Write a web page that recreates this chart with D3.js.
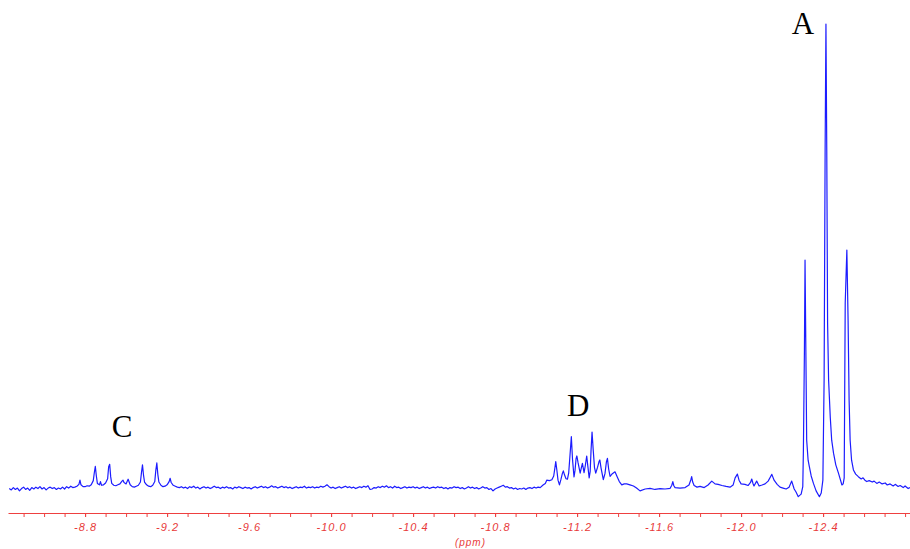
<!DOCTYPE html>
<html>
<head>
<meta charset="utf-8">
<script src="https://cdn.jsdelivr.net/npm/d3@7"></script>
<style>
  html, body { margin: 0; padding: 0; background: #ffffff; }
  svg { display: block; }
  .tick-label { font-family: "Liberation Sans", Arial, sans-serif; font-style: italic; font-size: 11px; letter-spacing: 1px; fill: #e83a3a; }
  .unit-label { font-family: "Liberation Sans", Arial, sans-serif; font-style: italic; font-size: 10px; letter-spacing: 1px; fill: #e83a3a; }
  .peak-label { font-family: "Liberation Serif", "Times New Roman", serif; font-size: 31px; fill: #000; }
</style>
</head>
<body>
<svg id="chart" width="910" height="549"></svg>
<script>
// 1H NMR trace, chemical shift (ppm) vs. relative intensity (tallest line = 100)

// C multiplet and the baseline on its left
const regionC = [
  [-8.43, 0.1], [-8.44, -0.2], [-8.45, 0.3], [-8.46, -0.1], [-8.47, 0.2], [-8.48, -0.4],
  [-8.49, 0.1], [-8.50, 0.4], [-8.51, -0.1], [-8.52, 0.2], [-8.53, -0.3], [-8.54, 0.3],
  [-8.55, 0.0], [-8.56, 0.4], [-8.57, 0.1], [-8.58, 0.5], [-8.59, 0.0], [-8.60, 0.3],
  [-8.61, -0.2], [-8.62, 0.2], [-8.63, 0.4], [-8.64, 0.1], [-8.65, 0.3], [-8.66, -0.1],
  [-8.67, 0.2], [-8.68, 0.0], [-8.69, 0.4], [-8.70, 0.0], [-8.71, 0.5], [-8.72, 0.2],
  [-8.73, 0.6], [-8.74, 0.3], [-8.75, 0.4], [-8.76, 0.6], [-8.77, 1.0], [-8.775, 1.9],
  [-8.78, 0.9], [-8.79, 0.5], [-8.80, 0.5], [-8.81, 0.7], [-8.82, 0.6], [-8.83, 0.9],
  [-8.84, 1.8], [-8.845, 3.5], [-8.85, 4.85], [-8.855, 2.8], [-8.86, 1.2], [-8.87, 0.9],
  [-8.875, 1.6], [-8.88, 0.8], [-8.89, 0.9], [-8.90, 1.3], [-8.91, 2.2], [-8.915, 4.8],
  [-8.92, 5.3], [-8.925, 2.6], [-8.93, 1.2], [-8.94, 0.8], [-8.95, 0.7], [-8.96, 0.9],
  [-8.97, 1.1], [-8.98, 1.7], [-8.985, 1.9], [-8.99, 1.4], [-9.00, 1.1], [-9.005, 1.6],
  [-9.01, 2.1], [-9.015, 1.5], [-9.02, 0.9], [-9.03, 0.5], [-9.04, 0.4], [-9.05, 0.6],
  [-9.06, 0.8], [-9.07, 1.5], [-9.075, 3.5], [-9.08, 5.2], [-9.085, 3.0], [-9.09, 1.5],
  [-9.10, 0.9], [-9.11, 0.6], [-9.12, 0.5], [-9.13, 0.8], [-9.14, 1.6], [-9.145, 4.0],
  [-9.15, 5.6], [-9.155, 3.1], [-9.16, 1.5], [-9.17, 0.8], [-9.18, 0.5], [-9.19, 0.6],
  [-9.20, 0.9], [-9.21, 1.6], [-9.215, 2.3], [-9.22, 1.4], [-9.23, 0.8], [-9.24, 0.6],
  [-9.25, 0.4]
];

// featureless stretch between C and D
const baselineMid = [
  [-9.26, 0.3], [-9.27, 0.5], [-9.28, 0.2], [-9.29, 0.4], [-9.30, 0.1], [-9.31, 0.5],
  [-9.32, 0.3], [-9.33, 0.6], [-9.34, 0.2], [-9.35, 0.4], [-9.36, 0.0], [-9.37, 0.3],
  [-9.38, 0.5], [-9.39, 0.2], [-9.40, 0.4], [-9.41, 0.1], [-9.42, 0.3], [-9.43, 0.6],
  [-9.44, 0.3], [-9.45, 0.4], [-9.46, 0.1], [-9.47, 0.4], [-9.48, 0.2], [-9.49, 0.5],
  [-9.50, 0.2], [-9.51, 0.3], [-9.52, 0.0], [-9.53, 0.4], [-9.54, 0.2], [-9.55, 0.5],
  [-9.56, 0.3], [-9.57, 0.1], [-9.58, 0.4], [-9.59, 0.2], [-9.60, 0.3], [-9.61, 0.0],
  [-9.62, 0.3], [-9.63, 0.5], [-9.64, 0.2], [-9.65, 0.4], [-9.66, 0.6], [-9.67, 0.3],
  [-9.68, 0.5], [-9.69, 0.2], [-9.70, 0.4], [-9.71, 0.7], [-9.72, 0.4], [-9.73, 0.5],
  [-9.74, 0.2], [-9.75, 0.4], [-9.76, 0.6], [-9.77, 0.3], [-9.78, 0.5], [-9.79, 0.2],
  [-9.80, 0.4], [-9.81, 0.1], [-9.82, 0.3], [-9.83, 0.5], [-9.84, 0.2], [-9.85, 0.4],
  [-9.86, 0.3], [-9.87, 0.6], [-9.88, 0.2], [-9.89, 0.4], [-9.90, 0.3], [-9.91, 0.5],
  [-9.92, 0.2], [-9.93, 0.4], [-9.94, 0.3], [-9.95, 0.6], [-9.96, 0.4], [-9.97, 0.6],
  [-9.98, 0.9], [-9.99, 0.5], [-10.00, 0.2], [-10.01, 0.4], [-10.02, 0.1], [-10.03, 0.3],
  [-10.04, 0.5], [-10.05, 0.2], [-10.06, 0.4], [-10.07, 0.6], [-10.08, 0.3], [-10.09, 0.5],
  [-10.10, 0.2], [-10.11, 0.4], [-10.12, 0.1], [-10.13, 0.3], [-10.14, 0.5], [-10.15, 0.3],
  [-10.16, 0.6], [-10.17, 0.4], [-10.18, 0.7], [-10.19, -0.1], [-10.20, 0.0], [-10.21, 0.3],
  [-10.22, 0.2], [-10.23, 0.5], [-10.24, 0.3], [-10.25, 0.6], [-10.26, 0.4], [-10.27, 0.7],
  [-10.28, 0.3], [-10.29, 0.5], [-10.30, 0.2], [-10.31, 0.6], [-10.32, 0.3], [-10.33, 0.4],
  [-10.34, 0.1], [-10.35, 0.3], [-10.36, 0.5], [-10.37, 0.2], [-10.38, 0.4], [-10.39, 0.3],
  [-10.40, 0.5], [-10.41, 0.2], [-10.42, 0.4], [-10.43, 0.1], [-10.44, 0.3], [-10.45, 0.5],
  [-10.46, 0.2], [-10.47, 0.4], [-10.48, 0.1], [-10.49, 0.3], [-10.50, 0.4], [-10.51, 0.2],
  [-10.52, 0.5], [-10.53, 0.3], [-10.54, 0.4], [-10.55, 0.1], [-10.56, 0.3], [-10.57, 0.0],
  [-10.58, 0.3], [-10.59, 0.2], [-10.60, 0.5], [-10.61, 0.3], [-10.62, 0.4], [-10.63, 0.1],
  [-10.64, 0.3], [-10.65, 0.0], [-10.66, 0.2], [-10.67, 0.5], [-10.68, 0.2], [-10.69, 0.4],
  [-10.70, 0.1], [-10.71, 0.3], [-10.72, 0.0], [-10.73, 0.2], [-10.74, 0.5], [-10.75, 0.2],
  [-10.76, 0.3], [-10.77, -0.1], [-10.78, 0.1], [-10.79, -0.4], [-10.80, 0.0], [-10.81, 0.2],
  [-10.82, 0.4], [-10.83, 0.6], [-10.84, 0.8], [-10.85, 0.4], [-10.86, 0.5], [-10.87, 0.2],
  [-10.88, 0.3], [-10.89, 0.0], [-10.90, 0.2], [-10.91, -0.1], [-10.92, 0.1], [-10.93, 0.0],
  [-10.94, 0.2], [-10.95, -0.1], [-10.96, 0.2], [-10.97, 0.3], [-10.98, 0.1], [-10.99, 0.4],
  [-11.00, 0.2], [-11.01, 0.4], [-11.02, 0.3]
];

// D multiplet
const regionD = [
  [-11.034, 0.86], [-11.045, 1.2], [-11.052, 1.9], [-11.065, 1.8], [-11.077, 2.0],
  [-11.086, 2.8], [-11.092, 4.6], [-11.096, 5.9], [-11.101, 4.2], [-11.107, 1.9],
  [-11.114, 0.9], [-11.121, 2.0], [-11.128, 3.3], [-11.133, 3.9], [-11.139, 3.0],
  [-11.146, 2.2], [-11.153, 2.1], [-11.159, 3.4], [-11.165, 7.0], [-11.172, 11.25],
  [-11.178, 6.2], [-11.185, 2.6], [-11.190, 4.0], [-11.195, 6.5], [-11.199, 7.1],
  [-11.205, 5.6], [-11.215, 3.4], [-11.221, 4.6], [-11.226, 5.5], [-11.234, 3.5],
  [-11.240, 5.0], [-11.247, 7.1], [-11.253, 4.7], [-11.259, 2.4], [-11.264, 3.8],
  [-11.268, 8.2], [-11.273, 12.25], [-11.279, 8.2], [-11.285, 4.6], [-11.291, 3.4],
  [-11.300, 4.7], [-11.307, 5.9], [-11.311, 6.25], [-11.317, 4.5], [-11.328, 2.0],
  [-11.336, 3.3], [-11.343, 5.8], [-11.348, 6.6], [-11.354, 4.3], [-11.361, 2.7],
  [-11.372, 3.3], [-11.385, 3.7], [-11.396, 2.6], [-11.406, 1.6], [-11.418, 0.9],
  [-11.430, 1.1], [-11.442, 1.1], [-11.458, 0.9], [-11.475, 0.65], [-11.490, 0.2],
  [-11.507, -0.4]
];

// small lines between D and A
const regionB = [
  [-11.532, 0.0], [-11.556, 0.15], [-11.580, -0.1], [-11.605, 0.1], [-11.629, 0.0],
  [-11.654, 0.15], [-11.662, 0.8], [-11.667, 1.6], [-11.672, 0.7], [-11.678, 0.3],
  [-11.702, 0.2], [-11.727, 0.3], [-11.746, 0.85], [-11.755, 2.0], [-11.759, 2.65],
  [-11.764, 1.5], [-11.771, 0.75], [-11.785, 0.4], [-11.800, 0.55], [-11.820, 0.3],
  [-11.839, 0.86], [-11.857, 1.7], [-11.873, 1.1], [-11.888, 1.0], [-11.907, 0.75],
  [-11.927, 0.55], [-11.946, 0.4], [-11.961, 0.85], [-11.971, 2.4], [-11.982, 3.2],
  [-11.990, 1.9], [-12.000, 1.1], [-12.019, 1.0], [-12.034, 0.75], [-12.046, 1.4],
  [-12.052, 2.15], [-12.058, 1.2], [-12.063, 0.65], [-12.076, 1.7], [-12.088, 0.65],
  [-12.102, 0.85], [-12.117, 1.1], [-12.132, 1.7], [-12.143, 2.6], [-12.150, 3.15],
  [-12.161, 1.9], [-12.176, 1.0], [-12.190, 0.4], [-12.205, 0.2], [-12.220, 0.0],
  [-12.234, 0.4], [-12.247, 1.7], [-12.259, 0.0], [-12.268, -0.65], [-12.279, -1.65],
  [-12.293, -1.1]
];

// A triplet and the baseline on its right
const regionA = [
  [-12.301, 0.5], [-12.304, 8.4], [-12.309, 29.9], [-12.312, 49.2], [-12.316, 29.9],
  [-12.320, 10.5], [-12.327, 6.2], [-12.333, 4.8], [-12.342, 2.8], [-12.353, 1.2],
  [-12.366, -0.4], [-12.382, -1.65], [-12.391, -0.85], [-12.399, 1.9], [-12.405, 23.4],
  [-12.410, 72.9], [-12.414, 100], [-12.418, 72.9], [-12.422, 35.7], [-12.427, 23.4],
  [-12.435, 15.5], [-12.442, 10.5], [-12.451, 7.7], [-12.462, 5.2], [-12.475, 3.4],
  [-12.492, 0.86], [-12.498, 1.1], [-12.503, 2.4], [-12.508, 40.0], [-12.516, 51.4],
  [-12.522, 36.3], [-12.527, 19.1], [-12.532, 10.5], [-12.539, 6.2], [-12.548, 4.1],
  [-12.559, 3.2], [-12.572, 2.65], [-12.586, 2.15], [-12.595, 2.4], [-12.604, 1.9],
  [-12.613, 1.6], [-12.625, 1.8], [-12.640, 1.5], [-12.649, 1.7], [-12.662, 1.2],
  [-12.674, 1.5], [-12.688, 1.1], [-12.703, 1.3], [-12.713, 0.86], [-12.727, 1.1],
  [-12.742, 0.65], [-12.752, 1.0], [-12.766, 0.55], [-12.776, 0.75], [-12.791, 0.3],
  [-12.800, 0.65], [-12.815, 0.1], [-12.824, 0.3]
];

// axis ticks
const minorTicks = [
  -8.5, -8.6, -8.7, -8.8, -8.9, -9.0, -9.1, -9.2, -9.3, -9.4, -9.5, -9.6, -9.7, -9.8, -9.9,
  -10.0, -10.1, -10.2, -10.3, -10.4, -10.5, -10.6, -10.7, -10.8, -10.9, -11.0, -11.1, -11.2,
  -11.3, -11.4, -11.5, -11.6, -11.7, -11.8, -11.9, -12.0, -12.1, -12.2, -12.3, -12.4, -12.5,
  -12.6, -12.7, -12.8
];
const tickLabels = [-8.8, -9.2, -9.6, -10.0, -10.4, -10.8, -11.2, -11.6, -12.0, -12.4];
const axisTitle = "(ppm)";

// multiplet labels, anchored at (ppm, intensity)
const peakNames = ["C", "D", "A"];
const peakNamePpm = [-8.980, -11.205, -12.302];
const peakNameLevel = [11.1, 15.7, 97.8];

const svg = d3.select("#chart");

const x = d3.scaleLinear().domain([-8.424, -12.824]).range([8, 910]);
const y = d3.scaleLinear().domain([0, 100]).range([489, 24]);

const spectrum = [].concat(regionC, baselineMid, regionD, regionB, regionA);

const line = d3.line()
  .x(d => x(d[0]))
  .y(d => y(d[1]));

svg.append("path")
  .datum(spectrum)
  .attr("fill", "none")
  .attr("stroke", "#1c1cff")
  .attr("stroke-width", 1.2)
  .attr("stroke-linejoin", "round")
  .attr("d", line);

// x axis: 0.1 ppm ticks, labels every 0.4 ppm
const axisY = 513;
const axisColor = "#ee4040";

const minorAxis = svg.append("g")
  .attr("transform", `translate(0,${axisY})`)
  .call(d3.axisBottom(x).tickValues(minorTicks).tickSize(4).tickSizeOuter(0).tickFormat(""));
minorAxis.select(".domain").attr("stroke", axisColor).attr("stroke-width", 1.2);
minorAxis.selectAll(".tick line").attr("stroke", axisColor);

const labelAxis = svg.append("g")
  .attr("transform", `translate(0,${axisY})`)
  .call(d3.axisBottom(x).tickValues(tickLabels).tickSize(4).tickPadding(6)
    .tickFormat(d3.format(".1f")));
labelAxis.select(".domain").remove();
labelAxis.selectAll(".tick line").attr("stroke", axisColor);
labelAxis.selectAll(".tick text")
  .attr("class", "tick-label")
  .attr("font-family", null).attr("font-size", null)
  .attr("fill", null)
  .text(d => d3.format(".1f")(d).replace("−", "-"));

svg.append("text")
  .attr("class", "unit-label")
  .attr("x", x(-10.68))
  .attr("y", 546)
  .attr("text-anchor", "middle")
  .text(axisTitle);

svg.selectAll(".peak-label")
  .data(peakNames)
  .join("text")
  .attr("class", "peak-label")
  .attr("x", (d, i) => x(peakNamePpm[i]))
  .attr("y", (d, i) => y(peakNameLevel[i]))
  .attr("text-anchor", "middle")
  .text(d => d);
</script>
</body>
</html>
